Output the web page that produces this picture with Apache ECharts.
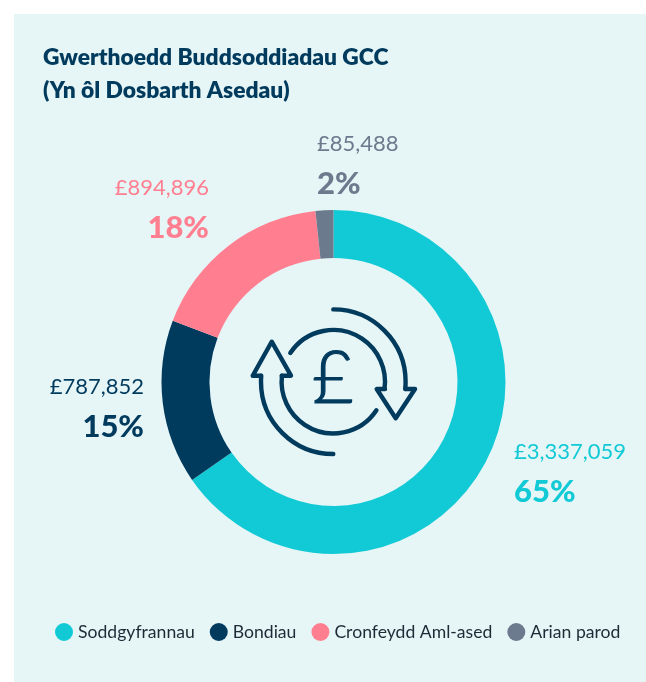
<!DOCTYPE html>
<html><head><meta charset="utf-8">
<style>html,body{margin:0;padding:0;background:#fff}#c{width:646px;height:682px}</style>
<script src="https://cdn.jsdelivr.net/npm/echarts@6/dist/echarts.min.js"></script>
</head><body><div id="c"></div>
<script>
const titleLines = ['Gwerthoedd Buddsoddiadau GCC', '(Yn ôl Dosbarth Asedau)'];
const categories = ['Soddgyfrannau', 'Bondiau', 'Cronfeydd Aml-ased', 'Arian parod'];
const values = [3337059, 787852, 894896, 85488];
const colours = ['#12CAD6', '#003A5D', '#FF7F91', '#6B7A8C'];
const labelPlacement = [
  {x: 514, y: 473, align: 'left'},
  {x: 144, y: 408, align: 'right'},
  {x: 209, y: 209, align: 'right'},
  {x: 317, y: 165, align: 'left'}
];
const font = 'Lato';
const navy = '#003A5D';
const chart = echarts.init(document.getElementById('c'), null, {renderer: 'canvas'});
const rich = {};
colours.forEach((c, i) => {
  rich['v' + i] = {fontFamily: font, fontWeight: 400, fontSize: 22, lineHeight: 38, color: c};
  rich['p' + i] = {fontFamily: font, fontWeight: 900, fontSize: 31, lineHeight: 42, color: c};
});
const iconStyle = {fill: 'none', stroke: navy, lineWidth: 4.4, lineCap: 'round', lineJoin: 'round'};
const rad = d => d * Math.PI / 180;
const iconArc = (r, a, b) => ({type: 'arc', z: 5, silent: true, shape: {cx: 333.3, cy: 381.7, r, startAngle: rad(a), endAngle: rad(b), clockwise: true}, style: iconStyle});
const iconLine = points => ({type: 'polyline', z: 5, silent: true, shape: {points}, style: iconStyle});
chart.setOption({
  animation: false,
  backgroundColor: '#fff',
  title: {
    text: titleLines.join('\n'), left: 38, top: 36,
    textStyle: {fontFamily: font, fontWeight: 800, fontSize: 22.8, lineHeight: 33, color: navy}
  },
  legend: {
    data: categories, bottom: 36, left: 50, icon: 'circle', itemWidth: 18, itemHeight: 18, itemGap: 15,
    textStyle: {fontFamily: font, fontSize: 17.6, color: '#1d2b36'}
  },
  graphic: {elements: [
    {type: 'rect', z: -10, silent: true, shape: {x: 14, y: 14, width: 632, height: 668}, style: {fill: '#E6F5F6'}},
    iconArc(72.3, -90, 5.8),
    iconArc(51.7, -146.3, 8),
    iconArc(72.3, 90, 184.7),
    iconArc(51.7, 33.5, 186.6),
    iconLine([[405.7, 389], [415, 389], [395.7, 418.3], [376.7, 389], [385, 389]]),
    iconLine([[261, 375.7], [252.7, 375.7], [271.7, 341.7], [291, 375.7], [281.7, 375.7]]),
    {type: 'text', z: 5, silent: true, x: 333, y: 380, style: {text: '£', fontFamily: font, fontWeight: 300, fontSize: 72, fill: navy, stroke: navy, lineWidth: 1.2, align: 'center', verticalAlign: 'middle'}}
  ]},
  series: [{
    type: 'pie', clockwise: true, startAngle: 90, radius: [124, 172], center: [333.5, 382],
    data: categories.map((n, i) => ({name: n, value: values[i], itemStyle: {color: colours[i]}})),
    label: {
      show: true, position: 'outside', overflow: 'none', rich,
      formatter: p => `{v${p.dataIndex}|£${values[p.dataIndex].toLocaleString('en-GB')}}\n{p${p.dataIndex}|${Math.round(p.percent)}%}`
    },
    labelLine: {show: false},
    labelLayout: p => ({x: labelPlacement[p.dataIndex].x, y: labelPlacement[p.dataIndex].y, align: labelPlacement[p.dataIndex].align, verticalAlign: 'middle', hideOverlap: false})
  }]
});
</script></body></html>
